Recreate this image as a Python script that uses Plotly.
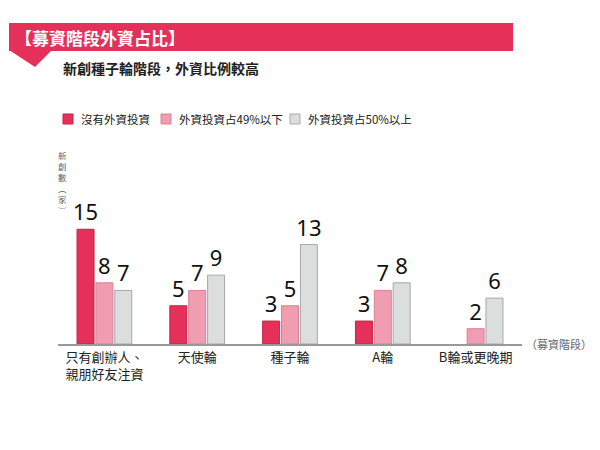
import plotly.graph_objects as go

categories = ["只有創辦人、<br>親朋好友注資", "天使輪", "種子輪", "A輪", "B輪或更晚期"]
series_names = ["沒有外資投資", "外資投資占49%以下", "外資投資占50%以上"]
no_foreign = [15, 5, 3, 3, None]
foreign_under49 = [8, 7, 5, 7, 2]
foreign_over50 = [7, 9, 13, 8, 6]
y_title_chars = ["新", "創", "數", "︵", "家", "︶"]

# page body has an 8px offset; figure is sized so its right/bottom edges meet the window
OFF = 8
W, H = 600 - OFF, 450 - OFF
L, R, T, B = 58 - OFF, 78, 191 - OFF, 106
PW, PH = W - L - R, H - T - B

def px(x):
    return (x - OFF - L) / PW

def py(y):
    return (H - B - (y - OFF)) / PH

FONT = "Noto Sans CJK TC"
colors = ["#E5305A", "#F09DB2", "#DCDDDD"]
lines = ["#C82048", "#D98098", "#A8A8A8"]

fig = go.Figure()
for name, vals, c, lc in zip(series_names, [no_foreign, foreign_under49, foreign_over50], colors, lines):
    fig.add_trace(go.Bar(
        x=categories, y=vals, name=name,
        marker=dict(color=c, line=dict(color=lc, width=1)),
        text=[("" if v is None else str(v)) for v in vals],
        textposition="outside", cliponaxis=False, constraintext="none",
        textfont=dict(size=22, color="#111111", family="Noto Sans"),
        showlegend=False,
    ))

shapes = [
    dict(type="rect", xref="paper", yref="paper", x0=px(9), x1=px(513), y0=py(51), y1=py(23),
         fillcolor="#E5305A", line=dict(width=0), layer="above"),
    dict(type="path", xref="paper", yref="paper",
         path=f"M {px(9)},{py(50)} L {px(52)},{py(50)} L {px(35)},{py(67)} Z",
         fillcolor="#E5305A", line=dict(width=0)),
]

annotations = [
    dict(text="【募資階段外資占比】", x=px(13), y=py(37), xref="paper", yref="paper",
         xanchor="left", yanchor="middle", showarrow=False,
         font=dict(size=17, color="white", family=FONT, weight="bold")),
    dict(text="新創種子輪階段，外資比例較高", x=px(61), y=py(68), xref="paper", yref="paper",
         xanchor="left", yanchor="middle", showarrow=False,
         font=dict(size=14, color="#222222", family=FONT, weight="bold")),
    dict(text="（募資階段）", x=px(524), y=py(344), xref="paper", yref="paper",
         xanchor="left", yanchor="middle", showarrow=False,
         font=dict(size=11, color="#666666", family=FONT)),
    dict(text="<br>".join(y_title_chars), x=px(62), y=py(148), xref="paper", yref="paper",
         xanchor="center", yanchor="top", showarrow=False, borderpad=0,
         font=dict(size=8.5, color="#666666", family=FONT)),
]

# legend drawn manually
legend_x = [63, 161, 290]
for name, c, lc, lx in zip(series_names, colors, lines, legend_x):
    shapes.append(dict(type="rect", xref="paper", yref="paper",
                       x0=px(lx), x1=px(lx + 10), y0=py(124), y1=py(114),
                       fillcolor=c, line=dict(color=lc, width=1)))
    annotations.append(dict(text=name, x=px(lx + 16), y=py(119), xref="paper", yref="paper",
                            xanchor="left", yanchor="middle", showarrow=False,
                            font=dict(size=11.5, color="#222222", family=FONT)))

fig.update_layout(
    width=W, height=H,
    margin=dict(l=L, r=R, t=T, b=B, autoexpand=False),
    paper_bgcolor="white", plot_bgcolor="white",
    barmode="group", bargap=0.39, bargroupgap=0.1,
    font=dict(family=FONT, color="#222222"),
    showlegend=False,
    xaxis=dict(showline=True, linecolor="#999999", linewidth=2, ticks="",
               tickfont=dict(size=13, color="#222222", family=FONT), showgrid=False,
               range=[-0.5, 4.5], automargin=False),
    yaxis=dict(range=[0, 20], visible=False, showgrid=False, zeroline=False, automargin=False),
    shapes=shapes, annotations=annotations,
)

fig.write_html("out.html")
